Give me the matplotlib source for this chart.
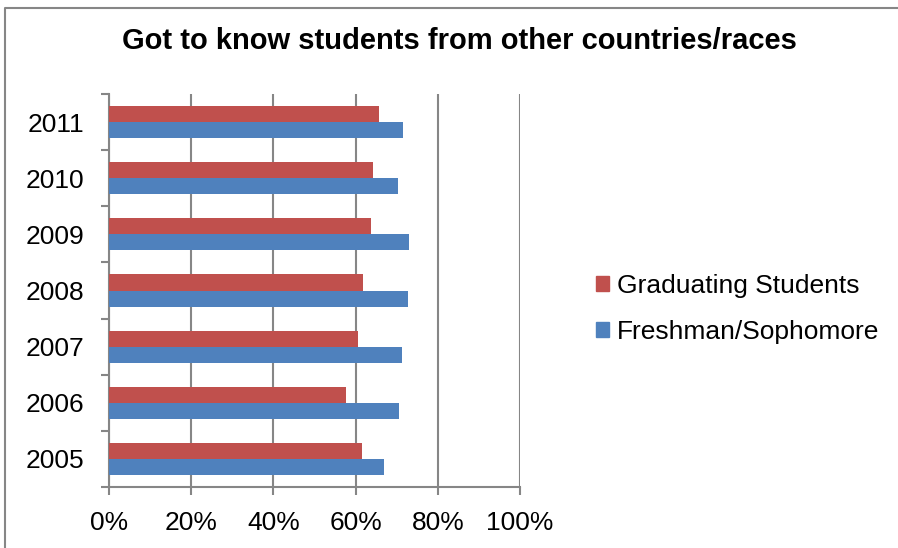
import numpy as np
import matplotlib
matplotlib.use("Agg")
from matplotlib import pyplot as plt
from matplotlib.lines import Line2D
from matplotlib.patches import Patch
from matplotlib.ticker import FixedLocator, PercentFormatter

years = ["2005", "2006", "2007", "2008", "2009", "2010", "2011"]
graduating = [61.6, 57.6, 60.6, 61.7, 63.7, 64.2, 65.7]
freshman = [66.8, 70.5, 71.3, 72.7, 72.9, 70.3, 71.5]

RED = "#C0504D"
BLUE = "#4F81BD"
GRID = "#868686"

plt.rcParams["font.family"] = ["Liberation Sans", "DejaVu Sans"]

W, H = 898, 548
fig = plt.figure(figsize=(W / 100, H / 100), dpi=100)
ax = fig.add_axes([109 / W, 1 - 487 / H, (520 - 109) / W, (487 - 94) / H])

y = np.arange(len(years))
h = 0.285
ax.barh(y + h / 2, graduating, height=h, color=RED, zorder=3)
ax.barh(y - h / 2, freshman, height=h, color=BLUE, zorder=3)

ax.set_xlim(0, 100)
ax.set_ylim(-0.5, len(years) - 0.5)
ax.set_xticks(np.arange(0, 101, 20))
ax.xaxis.set_major_formatter(PercentFormatter(decimals=0))
ax.set_yticks(y)
ax.set_yticklabels(years)
ax.yaxis.set_minor_locator(FixedLocator(np.arange(-0.5, len(years), 1.0)))

ax.grid(axis="x", color=GRID, linewidth=1.5, zorder=0)
for s in ["top", "right"]:
    ax.spines[s].set_visible(False)
for s in ["left", "bottom"]:
    ax.spines[s].set_color(GRID)
    ax.spines[s].set_linewidth(1.5)

ax.tick_params(axis="x", length=6, width=1.5, color=GRID, labelsize=19, pad=11)
ax.tick_params(axis="y", which="major", length=0, labelsize=19, pad=18)
ax.tick_params(axis="y", which="minor", length=6, width=1.5, color=GRID)

fig.text(459 / W, 1 - 41 / H, "Got to know students from other countries/races",
         ha="center", va="center", fontsize=21, fontweight="bold")

handles = [Patch(color=RED), Patch(color=BLUE)]
fig.legend(handles, ["Graduating Students", "Freshman/Sophomore"],
           loc="center left", bbox_to_anchor=(583 / W, 1 - 309 / H),
           frameon=False, fontsize=19, handlelength=0.5, handleheight=0.5,
           handletextpad=0.3, labelspacing=0.85, borderpad=0)

# chart area border (top and left edges)
fig.add_artist(Line2D([5 / W, 5 / W, 1], [0, 1 - 8 / H, 1 - 8 / H],
                      transform=fig.transFigure, color=GRID, linewidth=1.5))

fig.savefig("out.png", dpi=100)
